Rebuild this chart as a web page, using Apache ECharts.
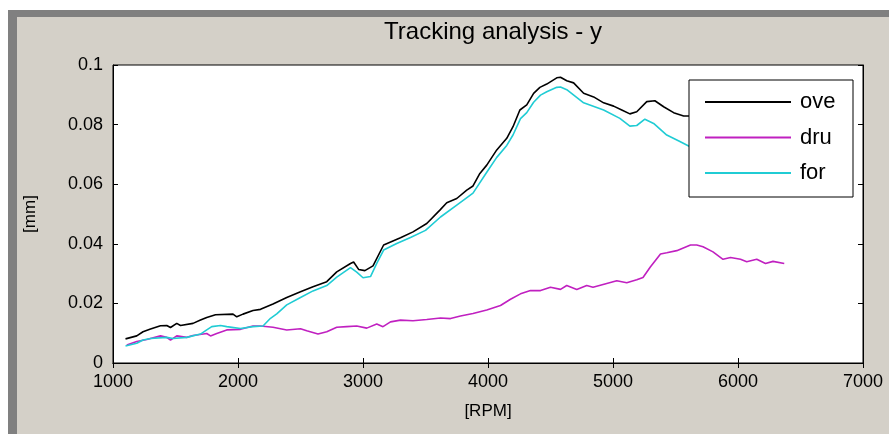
<!DOCTYPE html>
<html>
<head>
<meta charset="utf-8">
<script src="https://cdn.jsdelivr.net/npm/echarts@6/dist/echarts.min.js"></script>
<style>html,body{margin:0;padding:0;background:#fff}#c{width:889px;height:434px}</style>
</head>
<body>
<div id="c"></div>
<script>
const titleText = 'Tracking analysis - y';
const xName = '[RPM]';
const yName = '[mm]';
const seriesNames = ['ove', 'dru', 'for'];
const xTicks = [1000, 7000, 1000];
const yTicks = [0, 0.1, 0.02];

const oveRpm = [1100,1190,1240,1300,1380,1430,1460,1510,1540,1640,1700,1750,1820,1960,1990,2040,2120,2180,2280,2390,2500,2600,2710,2790,2900,2925,2965,3015,3080,3165,3300,3400,3510,3615,3670,3750,3830,3880,3935,3990,4070,4150,4200,4255,4310,4365,4415,4470,4550,4580,4630,4685,4765,4845,4925,5005,5070,5135,5190,5270,5335,5405,5485,5565,5605,5800,6000,6200,6370];
const oveVals = [0.0081,0.0091,0.0105,0.0114,0.0125,0.0126,0.0119,0.0133,0.0126,0.0133,0.0144,0.0153,0.0162,0.0164,0.0155,0.0164,0.0176,0.018,0.0198,0.022,0.0239,0.0256,0.0273,0.0306,0.0334,0.0339,0.0314,0.031,0.0326,0.0396,0.042,0.044,0.0468,0.0513,0.0538,0.0552,0.058,0.0594,0.0636,0.0664,0.0715,0.0754,0.0793,0.0849,0.0866,0.0905,0.0925,0.0936,0.0957,0.0959,0.0947,0.094,0.0905,0.0893,0.0873,0.0862,0.0849,0.0836,0.0843,0.0877,0.088,0.086,0.084,0.0829,0.0829,0.082,0.081,0.080,0.079];

const druRpm = [1110,1190,1270,1380,1430,1460,1510,1590,1640,1750,1780,1830,1910,2020,2120,2180,2280,2390,2500,2550,2640,2710,2790,2870,2950,3030,3110,3160,3220,3300,3400,3510,3620,3700,3780,3880,3990,4100,4180,4260,4340,4420,4500,4580,4630,4710,4790,4840,4950,5030,5110,5190,5240,5300,5380,5430,5510,5620,5670,5720,5800,5880,5940,6020,6070,6150,6220,6280,6370];
const druVals = [0.006,0.0072,0.0079,0.0091,0.0086,0.0077,0.0091,0.0086,0.0092,0.0099,0.0091,0.0099,0.0111,0.0113,0.0124,0.0124,0.012,0.0111,0.0115,0.0108,0.0097,0.0105,0.012,0.0122,0.0124,0.0117,0.0131,0.0122,0.0138,0.0144,0.0142,0.0146,0.0151,0.0149,0.0158,0.0166,0.0178,0.0193,0.0214,0.0232,0.0243,0.0243,0.0254,0.0247,0.026,0.0247,0.026,0.0254,0.0267,0.0276,0.0269,0.0279,0.0287,0.0323,0.0366,0.037,0.0377,0.0396,0.0396,0.039,0.0373,0.0348,0.0354,0.0348,0.034,0.0348,0.0334,0.0341,0.0334];

const forRpm = [1100,1190,1240,1300,1430,1480,1590,1700,1750,1790,1860,1910,2020,2120,2200,2260,2310,2390,2500,2600,2710,2790,2900,2950,3000,3060,3110,3165,3270,3380,3500,3620,3750,3880,3990,4070,4150,4200,4260,4310,4365,4420,4470,4550,4580,4630,4765,4925,5055,5135,5190,5255,5325,5430,5535,5605,5800,6000,6200,6370];
const forVals = [0.0057,0.0066,0.0077,0.0082,0.0086,0.0082,0.0086,0.0097,0.0111,0.0122,0.0126,0.0122,0.0116,0.0122,0.0124,0.015,0.0165,0.0195,0.022,0.0242,0.026,0.0288,0.032,0.0305,0.0286,0.029,0.0334,0.0379,0.0401,0.0421,0.0445,0.049,0.053,0.057,0.064,0.069,0.073,0.0765,0.082,0.084,0.0875,0.0899,0.091,0.0925,0.0926,0.0917,0.0873,0.0849,0.0821,0.0795,0.0797,0.0818,0.0804,0.0765,0.0743,0.0728,0.07,0.068,0.066,0.065];

const colors = ['#000000', '#c020c0', '#20ccd4'];
const FONT = "'Liberation Sans', Arial, sans-serif";
const FS = 18;

const pairs = (xs, ys) => xs.map((x, i) => [x, ys[i]]);
const rpmSets = [oveRpm, druRpm, forRpm];
const valSets = [oveVals, druVals, forVals];

const chart = echarts.init(document.getElementById('c'), null, {renderer: 'canvas'});

const axisCommon = {
  axisLine: {show: true, lineStyle: {color: '#000', width: 1}},
  axisTick: {show: true, inside: true, length: 5, lineStyle: {color: '#000'}},
  splitLine: {show: false}
};

chart.setOption({
  backgroundColor: '#d4d0c8',
  animation: false,
  title: {
    text: titleText, left: 488, top: 15, textAlign: 'center',
    textStyle: {fontFamily: FONT, fontSize: 24, fontWeight: 'normal', color: '#000'}
  },
  graphic: [
    {type: 'rect', shape: {x: 0, y: 0, width: 889, height: 10}, style: {fill: '#ffffff'}, z: 0, silent: true},
    {type: 'rect', shape: {x: 0, y: 0, width: 8, height: 434}, style: {fill: '#ffffff'}, z: 0, silent: true},
    {type: 'rect', shape: {x: 8, y: 10, width: 881, height: 7}, style: {fill: '#808080'}, z: 0, silent: true},
    {type: 'rect', shape: {x: 8, y: 10, width: 9, height: 424}, style: {fill: '#808080'}, z: 0, silent: true},
    {type: 'rect', shape: {x: 689, y: 80, width: 164, height: 117}, style: {fill: '#ffffff', stroke: '#000', lineWidth: 1}, z: 10, silent: true}
  ],
  grid: {left: 113, top: 65, width: 750, height: 298, show: true, backgroundColor: '#fff', borderColor: '#000', borderWidth: 1},
  legend: {
    orient: 'vertical', left: 705, top: 90, padding: 0, z: 11,
    data: seriesNames, icon: 'rect', itemWidth: 86, itemHeight: 2, itemGap: 11.5,
    textStyle: {fontFamily: FONT, fontSize: 22, color: '#000', lineHeight: 24, padding: [0, 0, 0, 4]}
  },
  xAxis: [
    Object.assign({type: 'value', min: xTicks[0], max: xTicks[1], interval: xTicks[2], position: 'bottom',
      name: xName, nameLocation: 'middle', nameGap: 40,
      nameTextStyle: {fontFamily: FONT, fontSize: 17, color: '#000'},
      axisLabel: {fontFamily: FONT, fontSize: FS, color: '#000', margin: 10, formatter: v => String(v)}}, axisCommon),
    Object.assign({type: 'value', min: xTicks[0], max: xTicks[1], interval: xTicks[2], position: 'top',
      axisLabel: {show: false}}, axisCommon)
  ],
  yAxis: [
    Object.assign({type: 'value', min: yTicks[0], max: yTicks[1], interval: yTicks[2], position: 'left',
      name: yName, nameLocation: 'middle', nameGap: 74, nameRotate: 90,
      nameTextStyle: {fontFamily: FONT, fontSize: 17, color: '#000'},
      axisLabel: {fontFamily: FONT, fontSize: FS, color: '#000', margin: 10}}, axisCommon),
    Object.assign({type: 'value', min: yTicks[0], max: yTicks[1], interval: yTicks[2], position: 'right',
      axisLabel: {show: false}}, axisCommon)
  ],
  series: seriesNames.map((n, i) => ({
    name: n, type: 'line', xAxisIndex: 0, yAxisIndex: 0,
    data: pairs(rpmSets[i], valSets[i]),
    showSymbol: false, symbol: 'none',
    lineStyle: {color: colors[i], width: 1.6},
    itemStyle: {color: colors[i]},
    z: 2 + i
  }))
});
</script>
</body>
</html>
